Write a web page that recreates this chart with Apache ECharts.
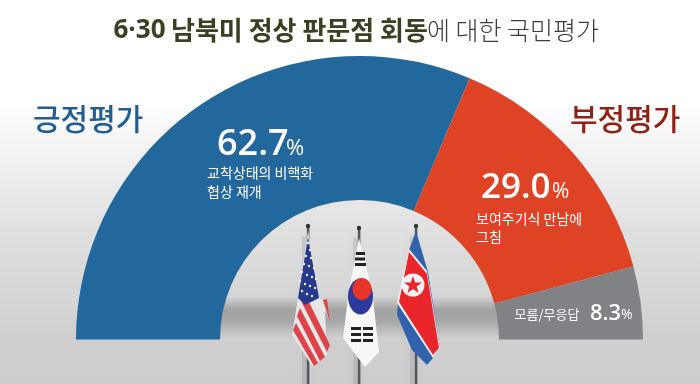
<!DOCTYPE html>
<html><head><meta charset="utf-8">
<style>html,body{margin:0;padding:0;background:#fff}#c{width:700px;height:384px}</style>
<script src="https://cdn.jsdelivr.net/npm/echarts@6/dist/echarts.min.js"></script>
</head><body><div id="c"></div>
<script>
const categories = ['긍정평가','부정평가','모름/무응답'];
const values = [62.7,29.0,8.3];
const colors = ['#22689d','#de4325','#808285'];
const valueLabels = ['62.7','29.0','8.3'];
const reasons = [['교착상태의 비핵화','협상 재개'],['보여주기식 만남에','그침']];
const titleDate = '6·30';
const titleBold = '남북미 정상 판문점 회동';
const titleLight = '에 대한 국민평가';
const KR = '"Noto Sans CJK KR","Noto Sans",sans-serif';
const NUM = '"Open Sans","Noto Sans",sans-serif';
const chart = echarts.init(document.getElementById('c'),null,{renderer:'canvas'});
const T=(x,y,text,size,fill,weight,font,ls)=>({type:'text',x,y,z:20,style:{text,fontSize:size,fill,fontWeight:weight||'normal',fontFamily:font||KR,align:'left',verticalAlign:'middle',letterSpacing:ls||0}});
const P=(pts,fill,z)=>({type:'polygon',z:z||12,shape:{points:pts},style:{fill}});
const R=(x,y,w,h,fill,z)=>({type:'rect',z:z||13,shape:{x,y,width:w,height:h},style:{fill}});
const pole=(x,top)=>[
 {type:'rect',z:3,shape:{x:x-6,y:top+10,width:5,height:384-top},style:{fill:'rgba(100,100,100,0.16)',shadowBlur:10,shadowColor:'rgba(100,100,100,0.4)'}},
 {type:'rect',z:10,shape:{x:x-1.2,y:top,width:2.6,height:384-top},style:{fill:'#55585c'}},
 {type:'circle',z:11,shape:{cx:x,cy:top,r:2.2},style:{fill:'#333'}}
];
const usStripes=[[293,330,314,366,318,363,296,323],[297,316,320,361,325,357,300,308],[302,303,327,352,330,345,306,296]];
const usStars=[[308,243],[310,250],[306,256],[311,258],[304,264],[309,266],[314,268],[302,272],[307,275],[312,277],[316,279],[300,281],[305,284],[310,286],[315,288],[302,291],[307,294],[312,296]];
const star=[[413,276],[415.2,282.4],[422,282.4],[416.6,286.6],[418.6,293],[413,289],[407.4,293],[409.4,286.6],[404,282.4],[410.8,282.4]];
const graphics=[
 {type:'rect',z:1,shape:{x:200,y:296,width:340,height:42},style:{fill:{type:'linear',x:0,y:0,x2:0,y2:1,colorStops:[{offset:0,color:'rgba(130,130,130,0)'},{offset:0.33,color:'rgba(130,130,130,0.6)'},{offset:0.6,color:'rgba(130,130,130,0.55)'},{offset:1,color:'rgba(130,130,130,0)'}]}}},
 ...pole(308,226),...pole(359,228),...pole(416,226),
 // US flag
 P([[308,231],[319,298],[323,300],[330,322],[325,310],[327,355],[312,366],[292,335],[298,298]],'#e6e6e6'),
 ...usStripes.map(s=>P([[s[0],s[1]],[s[2],s[3]],[s[4],s[5]],[s[6],s[7]]],'#dc4448',13)),
 P([[323,300],[327,299],[330,322]],'#dc4448',13),
 P([[308,237],[319,298],[305,305],[298,298]],'#26398c',14),
 ...usStars.map(s=>({type:'circle',z:15,shape:{cx:s[0],cy:s[1],r:1.2},style:{fill:'#f2f2f2'}})),
 // ROK flag
 P([[359,238],[372,290],[379,352],[365,367],[343,338],[349,290]],'#f7f7f7'),
 {type:'ellipse',z:14,shape:{cx:360.5,cy:296.5,rx:12.5,ry:18},style:{fill:'#2c3a9c'}},
 {type:'ellipse',z:15,shape:{cx:362,cy:289,rx:9.5,ry:11},style:{fill:'#e8352b'}},
 R(356,252,9,3,'#222',15),R(355,257.5,10,3,'#222',15),R(355,263,11,3,'#222',15),
 R(351,327,10,3,'#222',15),R(363,327,10,3,'#222',15),R(351,333,10,3,'#222',15),R(363,333,10,3,'#222',15),R(351,339,10,3,'#222',15),R(363,339,10,3,'#222',15),
 // DPRK flag
 P([[416,231],[428,272],[440,348],[433,358],[427,365],[412,350],[397,315],[398,302],[409,250]],'#3262ac'),
 P([[409,249],[427,271],[440,348],[433,358],[397,303]],'#f7f7f7',13),
 P([[409,252],[427,274],[439,348],[433,355],[399,302]],'#e8262c',14),
 {type:'circle',z:15,shape:{cx:413,cy:285,r:11.5},style:{fill:'#f4f4f4'}},
 P(star,'#e8262c',16),
 // Title
 T(113.5,30.5,titleDate,26,'#3c3f22','bold',NUM,-1.5),
 T(171,30.5,titleBold,26,'#3c3f22','bold'),
 T(427,30.5,titleLight,25,'#3d3d3d','300'),
 // Side labels
 T(33,119,categories[0],30,'#1f5e90','500'),
 T(570,119,categories[1],30,'#8f2313','500'),
 // Values
 T(217,145,valueLabels[0],36,'#fff','600',NUM,-2.5),
 T(286,149,'%',22,'#fff','400',NUM),
 T(207,172.5,reasons[0][0],14,'#fff','400'),
 T(207,191.5,reasons[0][1],14,'#fff','400'),
 T(481,188,valueLabels[1],35,'#fff','600',NUM,-1.5),
 T(552,192,'%',21,'#fff','400',NUM),
 T(476,219,reasons[1][0],14,'#fff','400'),
 T(476,237,reasons[1][1],14,'#fff','400'),
 T(514.5,314.5,categories[2],13,'#fff','400'),
 T(590,313.5,valueLabels[2],22,'#fff','600',NUM,-1.5),
 T(621,315,'%',14,'#fff','400',NUM)
];
chart.setOption({
 animation:false,
 backgroundColor:{type:'linear',x:0,y:0,x2:0,y2:1,colorStops:[{offset:0,color:'#ffffff'},{offset:0.26,color:'#ffffff'},{offset:0.6,color:'#e0e0e0'},{offset:0.88,color:'#cfcfcf'},{offset:1,color:'#cdcdcd'}]},
 series:[{type:'pie',z:5,center:[359.5,339.5],radius:[139.5,283.5],startAngle:180,endAngle:360,clockwise:true,silent:true,label:{show:false},labelLine:{show:false},itemStyle:{borderWidth:0},
  data:categories.map((name,i)=>({name,value:values[i],itemStyle:{color:colors[i]}}))}],
 graphic:{elements:graphics}
});
</script></body></html>
